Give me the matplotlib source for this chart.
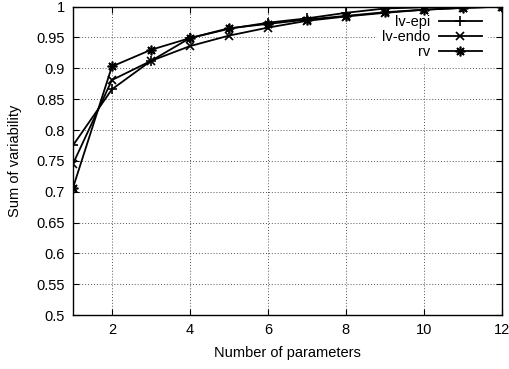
import matplotlib
matplotlib.use("Agg")
import matplotlib.pyplot as plt
import numpy as np
from matplotlib.ticker import FuncFormatter

plt.rcParams['font.family'] = ['Liberation Sans', 'DejaVu Sans']

n_params = list(range(1, 13))
lv_epi = [0.775, 0.866, 0.912, 0.949, 0.964, 0.974, 0.981, 0.990, 0.997, 0.999, 1.0, 1.0]
lv_endo = [0.745, 0.881, 0.912, 0.936, 0.953, 0.966, 0.977, 0.984, 0.990, 0.995, 0.998, 1.0]
rv = [0.706, 0.903, 0.930, 0.949, 0.965, 0.972, 0.979, 0.985, 0.991, 0.995, 0.998, 1.0]

fig = plt.figure(figsize=(5.1, 3.69), dpi=100)
ax = fig.add_axes([0.143, 0.146, 0.841, 0.836])

ax.plot(n_params, lv_epi, color='black', lw=1.3, marker='+', ms=7, mew=1.2, label='lv-epi')
ax.plot(n_params, lv_endo, color='black', lw=1.3, marker='x', ms=6, mew=1.2, label='lv-endo')
ax.plot(n_params, rv, color='black', lw=1.3, marker=(8, 2, 0), ms=7, mew=1.2, label='rv')

ax.set_xlim(1, 12)
ax.set_ylim(0.5, 1.0)
ax.set_xticks([2, 4, 6, 8, 10, 12])
ax.set_yticks(np.arange(0.5, 1.001, 0.05))
ax.yaxis.set_major_formatter(FuncFormatter(lambda v, p: '%g' % round(v, 2)))

ax.grid(True, color='#555555', linestyle=(0, (1, 2)), linewidth=0.7)
ax.tick_params(direction='in', top=True, right=True, length=4, labelsize=10.5, pad=6)
for s in ax.spines.values():
    s.set_linewidth(1.0)

ax.set_xlabel('Number of parameters', fontsize=10.5, labelpad=6)
ax.set_ylabel('Sum of variability', fontsize=10.5, labelpad=10)

leg = ax.legend(loc='upper right', markerfirst=False, fontsize=10.5, frameon=True,
                fancybox=False, edgecolor='white', framealpha=1.0,
                handlelength=3.0, labelspacing=0.05, borderaxespad=0.3,
                handletextpad=0.6, borderpad=0.3)
leg.set_bbox_to_anchor((0.975, 1.0), transform=ax.transAxes)
# white box hides the grid but not the data lines
leg.set_zorder(1.8)

fig.savefig('out.png', dpi=100)
